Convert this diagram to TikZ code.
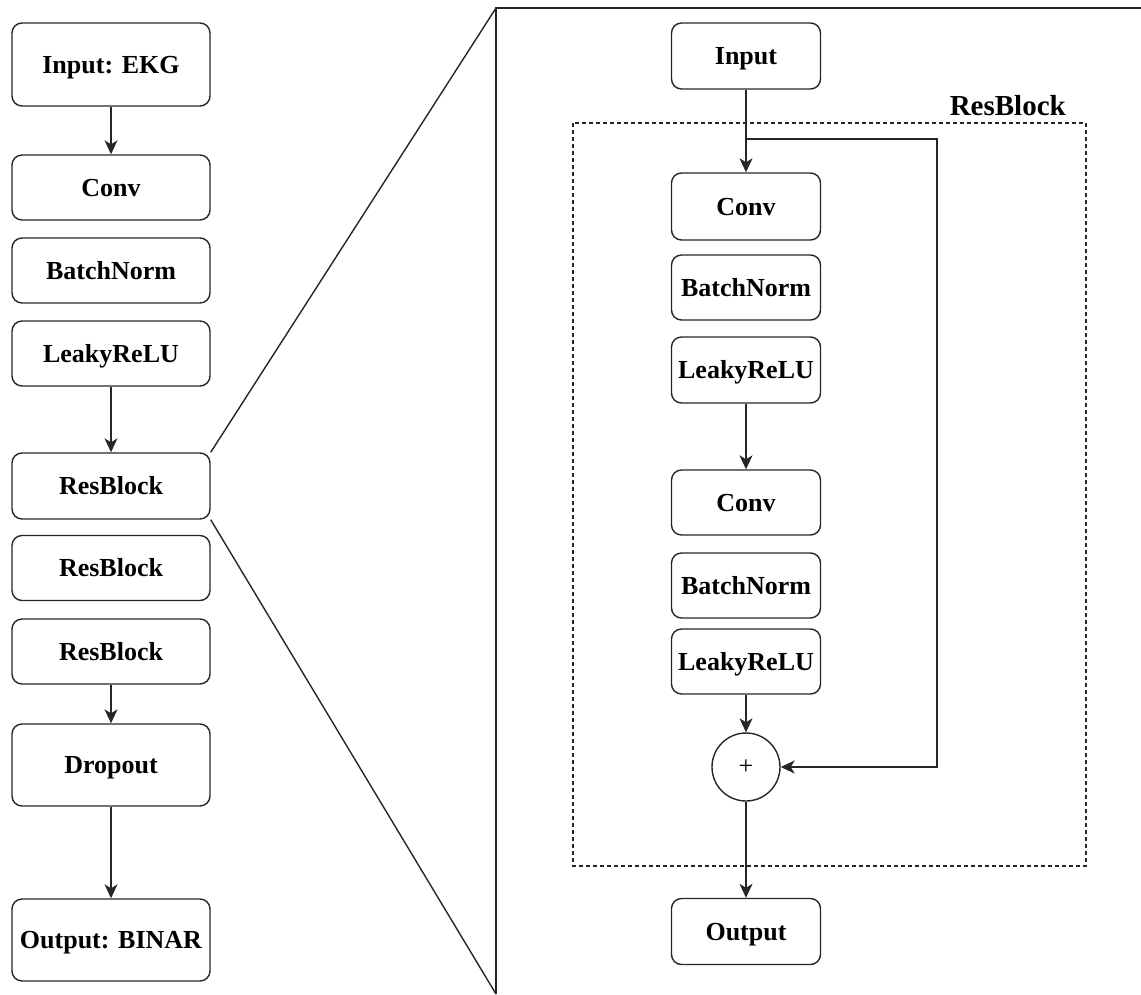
\documentclass[tikz,border=0pt]{standalone}
\usepackage{fontspec}
\setmainfont{Liberation Serif}
\usetikzlibrary{arrows.meta}
\begin{document}
\begin{tikzpicture}[x=1pt,y=-1pt,
  blk/.style={draw=black!85, rounded corners=10pt, line width=1.4pt, minimum width=198pt, inner sep=0pt,
     text height=17pt, text depth=0pt,
     font=\bfseries\fontsize{26}{30}\selectfont},
  blkr/.style={blk, minimum width=149pt},
  arr/.style={draw=black!85, line width=1.4pt, -{Stealth[length=14pt,width=13pt,inset=4pt]}},
  plain/.style={draw=black!85, line width=1.4pt}]
\useasboundingbox (0,0) rectangle (1141,994);
% left column
\node[blk, minimum height=83pt] (in1) at (111,64.5) {Input: EKG};
\node[blk, minimum height=65pt] (conv1) at (111,187.5) {Conv};
\node[blk, minimum height=65pt] (bn1) at (111,270.5) {BatchNorm};
\node[blk, minimum height=65pt] (lr1) at (111,353.5) {LeakyReLU};
\node[blk, minimum height=66pt] (rb1) at (111,486) {ResBlock};
\node[blk, minimum height=65pt] (rb2) at (111,568) {ResBlock};
\node[blk, minimum height=65pt] (rb3) at (111,651.5) {ResBlock};
\node[blk, minimum height=82pt] (drop) at (111,765) {Dropout};
\node[blk, minimum height=82pt] (out1) at (111,940) {Output: BINAR};
\draw[arr] (in1) -- (conv1);
\draw[arr] (lr1) -- (rb1);
\draw[arr] (rb3) -- (drop);
\draw[arr] (drop) -- (out1);
% zoom frame
\coordinate (ftop) at (496,8);
\coordinate (fbot) at (496,994);
\coordinate (fright) at (1141,8);
\draw[plain] (fbot) -- (ftop) -- (fright);
\draw[plain] (rb1.north east) -- (ftop);
\draw[plain] (rb1.south east) -- (fbot);
% right column
\node[blkr, minimum height=66pt] (in2) at (746,56) {Input};
\node[blkr, minimum height=67pt] (conv2a) at (746,206.5) {Conv};
\node[blkr, minimum height=65pt] (bn2a) at (746,287.5) {BatchNorm};
\node[blkr, minimum height=66pt] (lr2a) at (746,370) {LeakyReLU};
\node[blkr, minimum height=65pt] (conv2b) at (746,502.5) {Conv};
\node[blkr, minimum height=65pt] (bn2b) at (746,585.5) {BatchNorm};
\node[blkr, minimum height=65pt] (lr2b) at (746,661.5) {LeakyReLU};
\node[draw=black!85, circle, line width=1.4pt, minimum size=68pt, inner sep=0pt,
      font=\fontsize{26}{30}\selectfont] (plus) at (746,767) {+};
\node[blkr, minimum height=66pt] (out2) at (746,931.5) {Output};
% dashed block
\draw[draw=black!85, dash pattern=on 4pt off 3pt, line width=1.3pt] (573,123) rectangle (1086,866);
\node[font=\bfseries\fontsize{29}{32}\selectfont, anchor=south east, inner sep=0pt] (lbl) at (1066,116) {ResBlock};
% arrows
\draw[arr] (in2) -- (conv2a);
\draw[arr] (lr2a) -- (conv2b);
\draw[arr] (lr2b) -- (plus);
\draw[arr] (plus) -- (out2);
\coordinate (sk0) at (746,139);
\coordinate (sk1) at (937,139);
\coordinate (sk2) at (937,767);
\draw[arr] (sk0) -- (sk1) -- (sk2) -- (plus.east);
\end{tikzpicture}
\end{document}
